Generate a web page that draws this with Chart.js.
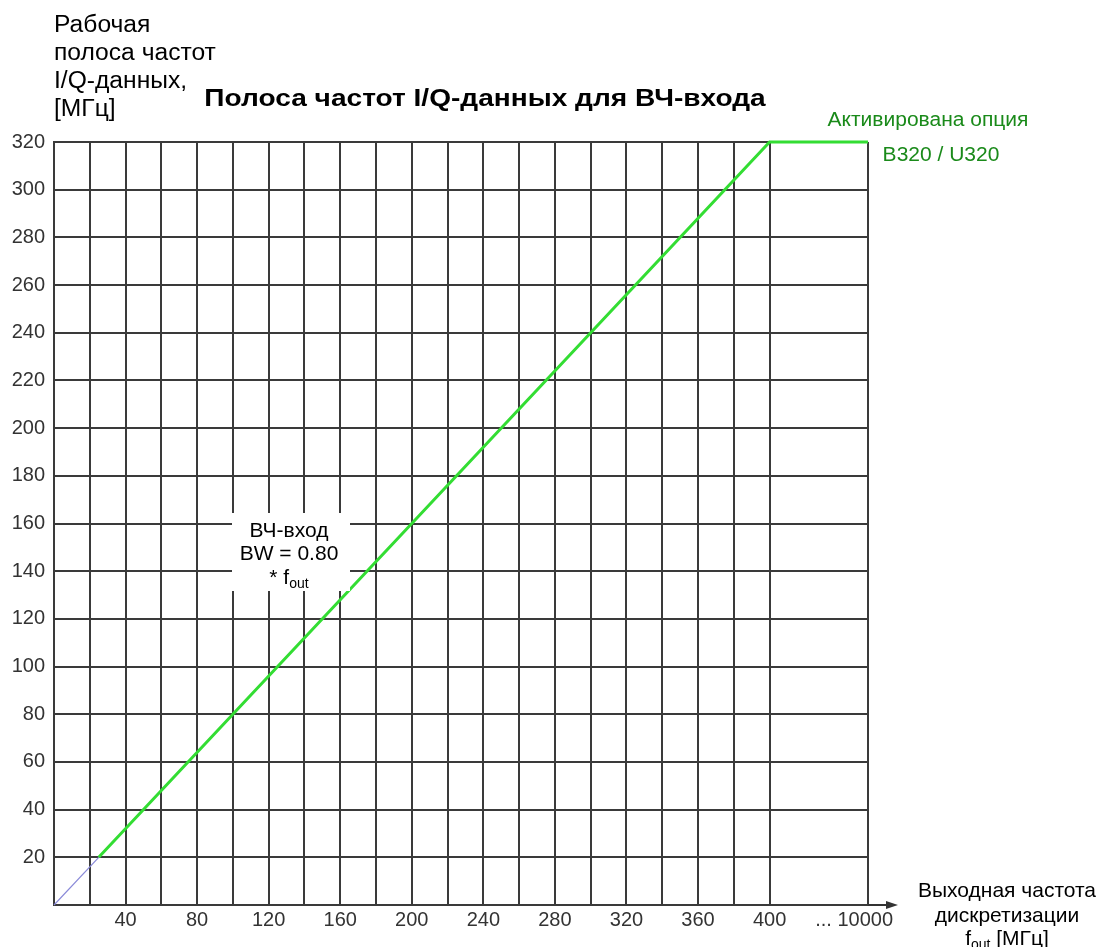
<!DOCTYPE html>
<html>
<head>
<meta charset="utf-8">
<script src="https://cdn.jsdelivr.net/npm/chart.js@4/dist/chart.umd.min.js"></script>
<style>
  html, body { margin: 0; padding: 0; background: #fff; }
  #wrap { width: 1114px; height: 947px; }
</style>
</head>
<body>
<div id="wrap"><canvas id="chart" width="1114" height="947"></canvas></div>
<script>
// IQ bandwidth vs output sample rate (fout)
const lowFreq = [0, 25];            // thin blue part
const lowBw = [0, 20];
const rfFreq = [25, 400, 10000];    // green part: BW = 0.8 * fout, capped at 320
const rfBw = [20, 320, 320];
const xTicks = [0, 20, 40, 60, 80, 100, 120, 140, 160, 180, 200, 220, 240, 260, 280, 300, 320, 340, 360, 380, 400, 10000];
const xLabelTicks = [40, 80, 120, 160, 200, 240, 280, 320, 360, 400, 10000];
const yTicks = [0, 20, 40, 60, 80, 100, 120, 140, 160, 180, 200, 220, 240, 260, 280, 300, 320];

// the x axis is broken after 400: 10000 sits one short gap further right
const BREAK_AT = 400;
const BREAK_POS = 455;
function axisPos(v) { return v > BREAK_AT ? BREAK_POS : v; }
function toPoints(xs, ys) { return xs.map((x, i) => ({ x: axisPos(x), y: ys[i] })); }

const FONT = '"Liberation Sans", Arial, sans-serif';
const GREEN_TEXT = '#1a8a1a';

// text in the source is a bit wider than plain Arial, so stretch it sideways
function text(ctx, str, x, y, size, opts = {}) {
  const sx = opts.sx || 1;
  ctx.save();
  ctx.font = (opts.bold ? 'bold ' : '') + size + 'px ' + FONT;
  ctx.fillStyle = opts.color || '#000';
  ctx.textBaseline = 'alphabetic';
  ctx.textAlign = opts.align || 'left';
  ctx.translate(x, y);
  ctx.scale(sx, 1);
  ctx.fillText(str, 0, 0);
  ctx.restore();
}

// "f" with subscript "out", then optional tail, centered on cx
function fOutLabel(ctx, prefix, tail, cx, y, size, subSize) {
  ctx.save();
  ctx.font = size + 'px ' + FONT;
  const pw = ctx.measureText(prefix).width;
  const tw = ctx.measureText(tail).width;
  ctx.font = subSize + 'px ' + FONT;
  const sw = ctx.measureText('out').width;
  ctx.restore();
  const x0 = cx - (pw + sw + tw) / 2;
  text(ctx, prefix, x0, y, size);
  text(ctx, 'out', x0 + pw, y + 4, subSize);
  text(ctx, tail, x0 + pw + sw, y, size);
}

const overlay = {
  id: 'overlay',
  afterDraw(chart) {
    const ctx = chart.ctx;
    const ca = chart.chartArea;
    ctx.save();

    // x axis arrow
    ctx.strokeStyle = '#333';
    ctx.fillStyle = '#333';
    ctx.lineWidth = 2;
    ctx.beginPath();
    ctx.moveTo(ca.right, ca.bottom);
    ctx.lineTo(ca.right + 22, ca.bottom);
    ctx.stroke();
    ctx.beginPath();
    ctx.moveTo(ca.right + 30, ca.bottom);
    ctx.lineTo(ca.right + 18, ca.bottom - 4);
    ctx.lineTo(ca.right + 18, ca.bottom + 4);
    ctx.closePath();
    ctx.fill();
    ctx.restore();

    // main title
    text(ctx, 'Полоса частот I/Q-данных для ВЧ-входа', 485, 106, 24, { bold: true, align: 'center', sx: 1.17 });

    // y axis title
    ['Рабочая', 'полоса частот', 'I/Q-данных,', '[МГц]'].forEach((t, i) => {
      text(ctx, t, 54, 32 + i * 28, 23, { sx: 1.07 });
    });

    // x axis title
    text(ctx, 'Выходная частота', 1007, 897, 21, { align: 'center' });
    text(ctx, 'дискретизации', 1007, 922, 21, { align: 'center' });
    fOutLabel(ctx, 'f', ' [МГц]', 1007, 945, 21, 14);

    // option note
    text(ctx, 'Активирована опция', 928, 126, 20, { align: 'center', color: GREEN_TEXT, sx: 1.05 });
    text(ctx, 'B320 / U320', 941, 161, 20, { align: 'center', color: GREEN_TEXT, sx: 1.05 });

    // RF input note with white box
    ctx.save();
    ctx.fillStyle = '#fff';
    ctx.fillRect(232, 513, 118, 78);
    ctx.restore();
    text(ctx, 'ВЧ-вход', 289, 537, 21, { align: 'center' });
    text(ctx, 'BW = 0.80', 289, 560, 21, { align: 'center' });
    fOutLabel(ctx, '* f', '', 289, 584, 21, 14);
  }
};

new Chart(document.getElementById('chart'), {
  type: 'scatter',
  data: {
    datasets: [
      {
        label: 'low',
        data: toPoints(lowFreq, lowBw),
        showLine: true,
        borderColor: '#8a8ad8',
        borderWidth: 1.2,
        pointRadius: 0,
        clip: false
      },
      {
        label: 'RF',
        data: toPoints(rfFreq, rfBw),
        showLine: true,
        borderColor: '#33dd33',
        borderWidth: 3,
        pointRadius: 0,
        clip: false
      }
    ]
  },
  options: {
    responsive: false,
    animation: false,
    layout: { padding: { top: 142, right: 246, left: 0, bottom: 0 } },
    plugins: { legend: { display: false }, tooltip: { enabled: false } },
    scales: {
      x: {
        type: 'linear',
        min: 0,
        max: BREAK_POS,
        afterBuildTicks: s => { s.ticks = xTicks.map(v => ({ value: axisPos(v) })); },
        afterFit: s => { s.height = 42; },
        grid: { color: '#3a3a3a', lineWidth: 2, drawTicks: false },
        border: { color: '#3a3a3a', width: 2 },
        ticks: {
          padding: 3,
          color: '#333',
          font: { family: FONT, size: 20 },
          maxRotation: 0,
          autoSkip: false,
          callback: v => {
            const real = xTicks.find(t => axisPos(t) === v);
            if (!xLabelTicks.includes(real)) return '';
            return real === 10000 ? '... 10000     ' : String(real);
          }
        }
      },
      y: {
        type: 'linear',
        min: 0,
        max: 320,
        afterBuildTicks: s => { s.ticks = yTicks.map(v => ({ value: v })); },
        afterFit: s => { s.width = 54; },
        grid: { color: '#3a3a3a', lineWidth: 2, drawTicks: false },
        border: { color: '#3a3a3a', width: 2 },
        ticks: {
          padding: 9,
          color: '#333',
          font: { family: FONT, size: 20 },
          callback: v => v === 0 ? '' : String(v)
        }
      }
    }
  },
  plugins: [overlay]
});
</script>
</body>
</html>
